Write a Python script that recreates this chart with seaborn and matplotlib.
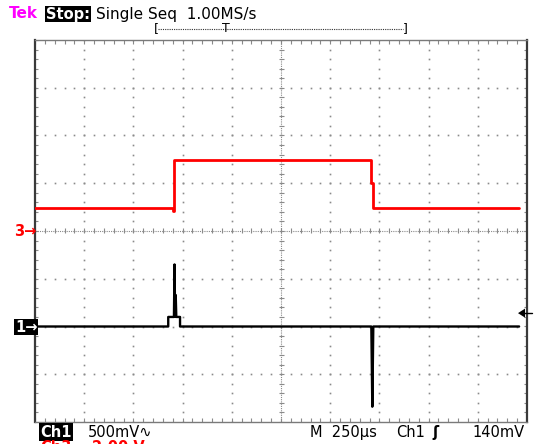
import numpy as np
import pandas as pd
import matplotlib
matplotlib.use("Agg")
import matplotlib.pyplot as plt
import seaborn as sns
from matplotlib.patches import Polygon

# ---------------- data ----------------
# time axis: microseconds from left edge of screen (250 us/div, 10 div)
ch3_time = [0, 700, 700, 708, 708, 1709, 1709, 1716, 1716, 2460]
ch3_volts = [0.97, 0.97, 0.84, 0.84, 2.97, 2.97, 2.02, 2.02, 0.97, 0.97]

ch1_time = [0, 677, 677, 706, 709, 712, 715, 718, 737, 737,
            1709, 1714, 1719, 2460]
ch1_volts = [0.0, 0.0, 0.10, 0.10, 0.65, 0.10, 0.33, 0.10, 0.10, 0.0,
             0.0, -0.84, 0.0, 0.0]

ch3_scale = 2.00      # V/div
ch3_position = 0.0    # div
ch1_scale = 0.50      # V/div
ch1_position = -2.0   # div
time_per_div = 250    # us
trigger_level = 0.140 # V

header_tek = "Tek"
header_state = "Stop:"
header_mode = "Single Seq  1.00MS/s"
footer_ch1 = "Ch1"
footer_ch1_scale = "500mV\u223f"
footer_time = "M  250\u00b5s"
footer_trig = "Ch1"
footer_trig_level = "140mV"
footer_ch3 = "Ch3"
footer_ch3_scale = "2.00 V"

# ---------------- figure ----------------
sns.set_style("white")
plt.rcParams['font.family'] = ['DejaVu Sans']
W, H = 535, 444
fig = plt.figure(figsize=(W / 100, H / 100), dpi=100)
fig.patch.set_facecolor("white")

L, R, T, B = 35, 527, 40, 422
ax = fig.add_axes([L / W, (H - B) / H, (R - L) / W, (B - T) / H])
ax.set_xlim(0, 10 * time_per_div)
ax.set_ylim(-4, 4)
ax.set_xticks([])
ax.set_yticks([])
for s in ["left", "right"]:
    ax.spines[s].set_color("#3a3a3a")
    ax.spines[s].set_linewidth(1.6)
for s in ["top", "bottom"]:
    ax.spines[s].set_color("#7a7a7a")
    ax.spines[s].set_linewidth(1.0)

px_x = time_per_div / ((R - L) / 10)   # data units per pixel (x)
px_y = 1 / ((B - T) / 8)               # data units per pixel (y)

grid_col = "#8a8a8a"
minor_x = np.arange(0, 10 * time_per_div + 0.1, time_per_div / 5)
minor_y = np.arange(-4, 4.001, 0.2)

# dotted graticule lines
for k in range(1, 10):
    if k == 5:
        continue
    ax.plot(np.full_like(minor_y, k * time_per_div), minor_y, ls="none",
            marker="s", ms=1.2, mew=0, color=grid_col, zorder=1)
for j in [-3, -2, -1, 1, 2, 3]:
    ax.plot(minor_x, np.full_like(minor_x, j), ls="none",
            marker="s", ms=1.2, mew=0, color=grid_col, zorder=1)

# centre cross with ticks
ax.axvline(5 * time_per_div, color=grid_col, lw=0.8, ls=(0, (1, 1)), zorder=1)
ax.axhline(0, color=grid_col, lw=0.8, ls=(0, (1, 1)), zorder=1)
ax.hlines(minor_y, 5 * time_per_div - 2.5 * px_x, 5 * time_per_div + 2.5 * px_x,
          color=grid_col, lw=0.8, zorder=1)
ax.vlines(minor_x, -2.5 * px_y, 2.5 * px_y, color=grid_col, lw=0.8, zorder=1)

# edge ticks
ax.vlines(minor_x, 4 - 4 * px_y, 4, color=grid_col, lw=0.8)
ax.vlines(minor_x, -4, -4 + 4 * px_y, color=grid_col, lw=0.8)
ax.hlines(minor_y, 0, 3 * px_x, color=grid_col, lw=0.8)
ax.hlines(minor_y, 10 * time_per_div - 3 * px_x, 10 * time_per_div,
          color=grid_col, lw=0.8)

# traces
df3 = pd.DataFrame({"t": ch3_time,
                    "div": np.array(ch3_volts) / ch3_scale + ch3_position})
df1 = pd.DataFrame({"t": ch1_time,
                    "div": np.array(ch1_volts) / ch1_scale + ch1_position})
sns.lineplot(data=df3, x="t", y="div", sort=False, estimator=None,
             color="#ff0000", lw=2.0, ax=ax, zorder=5)
sns.lineplot(data=df1, x="t", y="div", sort=False, estimator=None,
             color="#000000", lw=1.7, ax=ax, zorder=6)
ax.set_xlabel("")
ax.set_ylabel("")

# ---------------- overlay for screen annotations ----------------
ov = fig.add_axes([0, 0, 1, 1], zorder=10)
ov.set_xlim(0, W)
ov.set_ylim(H, 0)
ov.axis("off")
ov.patch.set_alpha(0)

fs = 10.5
hfs = 11.0
ov.text(9, 14, header_tek, color="#ff00ff", fontsize=hfs, fontweight="bold",
        va="center", ha="left")
ov.text(46, 14, header_state, color="white", fontsize=hfs - 0.5,
        fontweight="bold", va="center", ha="left",
        bbox=dict(boxstyle="square,pad=0.05", fc="black", ec="none"))
ov.text(96, 14, header_mode, color="black", fontsize=hfs, va="center", ha="left")

# record-window bracket
ov.plot([158, 403], [29, 29], color="#333333", lw=0.8, ls=(0, (1, 1)))
ov.text(156, 29, "[", fontsize=9, va="center", ha="center", color="black")
ov.text(405, 29, "]", fontsize=9, va="center", ha="center", color="black")
ov.text(226, 28, "T", fontsize=9, va="center", ha="center", color="black")

# channel ground markers
ov.text(14, 231, "3\u2192", color="#ff0000", fontsize=fs, va="center",
        ha="left", fontweight="bold")
ov.text(15, 327, "1\u2192", color="white", fontsize=fs, va="center",
        ha="left", fontweight="bold",
        bbox=dict(boxstyle="square,pad=0.05", fc="black", ec="none"))

# trigger level marker (right)
ty = T + (4 - (trigger_level / ch1_scale + ch1_position)) * (B - T) / 8
ov.add_patch(Polygon([[518, ty], [525, ty - 4.5], [525, ty + 4.5]],
                     closed=True, fc="black", ec="none"))
ov.plot([524, 532], [ty, ty], color="black", lw=1.0)

# footer
ov.text(40, 432, footer_ch1, color="white", fontsize=fs, fontweight="bold",
        va="center", ha="left",
        bbox=dict(boxstyle="square,pad=0.08", fc="black", ec="none"))
ov.text(88, 432, footer_ch1_scale, color="black", fontsize=fs, va="center",
        ha="left")
ov.text(310, 432, footer_time, color="black", fontsize=fs, va="center",
        ha="left")
ov.text(396, 432, footer_trig, color="black", fontsize=fs, va="center",
        ha="left")
ov.text(436, 432, "\u0283", color="black", fontsize=fs, va="center",
        ha="center", fontweight="bold")
ov.text(525, 432, footer_trig_level, color="black", fontsize=fs, va="center",
        ha="right")
ov.text(40, 447, footer_ch3, color="#ff0000", fontsize=fs, fontweight="bold",
        va="center", ha="left")
ov.text(92, 447, footer_ch3_scale, color="#ff0000", fontsize=fs,
        fontweight="bold", va="center", ha="left")

fig.savefig("out.png", dpi=100, facecolor="white")
